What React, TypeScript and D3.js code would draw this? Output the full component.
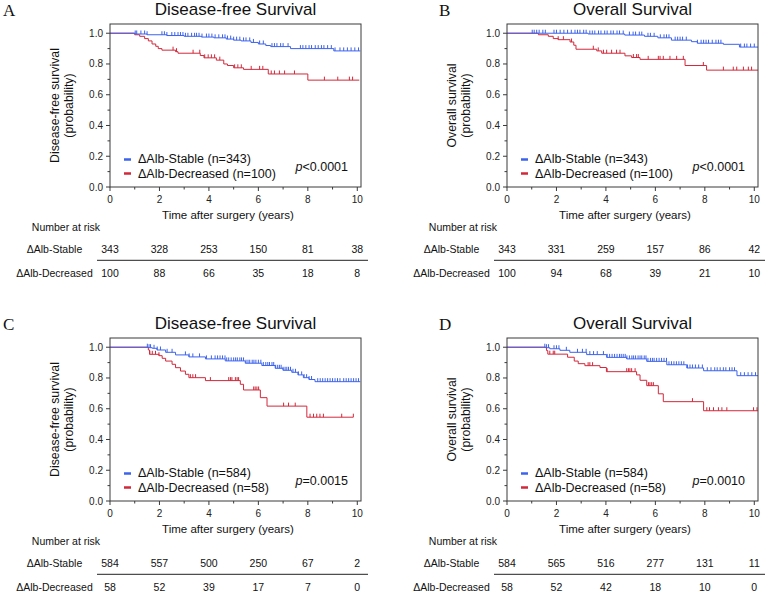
import React from "react";
import * as d3 from "d3";

// ---------- axis ticks ----------
const timeTicks = [0, 2, 4, 6, 8, 10];
const timeMinorTicks = [1, 3, 5, 7, 9];
const survTicks = [0, 0.2, 0.4, 0.6, 0.8, 1.0];
const survMinorTicks = [0.1, 0.3, 0.5, 0.7, 0.9];

// ---------- panel texts ----------
const panelLetters = ["A", "B", "C", "D"];
const panelTitles = ["Disease-free Survival", "Overall Survival", "Disease-free Survival", "Overall Survival"];
const yLabelTop = ["Disease-free survival", "Overall survival", "Disease-free survival", "Overall survival"];
const yLabelBottom = ["(probability)", "(probability)", "(probability)", "(probability)"];
const groupNames = ["ΔAlb-Stable", "ΔAlb-Decreased"];
const stableN = [343, 343, 584, 584];
const decreasedN = [100, 100, 58, 58];
const pValueText = ["<0.0001", "<0.0001", "=0.0015", "=0.0010"];

// ---------- number at risk ----------
const riskStableA = [343, 328, 253, 150, 81, 38];
const riskDecreasedA = [100, 88, 66, 35, 18, 8];
const riskStableB = [343, 331, 259, 157, 86, 42];
const riskDecreasedB = [100, 94, 68, 39, 21, 10];
const riskStableC = [584, 557, 500, 250, 67, 2];
const riskDecreasedC = [58, 52, 39, 17, 7, 0];
const riskStableD = [584, 565, 516, 277, 131, 11];
const riskDecreasedD = [58, 52, 42, 18, 10, 0];

// ---------- Kaplan-Meier steps [time, survival after drop] ----------
const stableStepsA: [number, number][] = [
  [1.0, 0.995], [1.5, 0.99], [2.3, 0.985], [3.0, 0.98], [3.7, 0.975], [4.2, 0.97],
  [4.7, 0.962], [5.0, 0.955], [5.3, 0.95], [5.7, 0.94], [6.0, 0.93], [6.3, 0.92],
  [6.5, 0.913], [7.3, 0.9], [9.05, 0.885],
];
const decreasedStepsA: [number, number][] = [
  [1.0, 0.99], [1.2, 0.98], [1.4, 0.965], [1.55, 0.95], [1.7, 0.93], [1.85, 0.915],
  [1.95, 0.9], [2.1, 0.89], [2.65, 0.88], [2.75, 0.87], [3.65, 0.855], [3.8, 0.84],
  [4.3, 0.825], [4.6, 0.8], [4.75, 0.79], [5.0, 0.775], [5.4, 0.765], [6.4, 0.735], [8.0, 0.695],
];
const stableStepsB: [number, number][] = [
  [3.28, 0.995], [4.76, 0.988], [5.56, 0.98], [6.1, 0.97], [6.65, 0.955], [7.46, 0.945],
  [7.7, 0.935], [8.75, 0.928], [9.4, 0.91],
];
const decreasedStepsB: [number, number][] = [
  [1.27, 0.99], [1.67, 0.98], [1.87, 0.965], [2.07, 0.958], [2.55, 0.943], [2.7, 0.922],
  [2.79, 0.896], [3.63, 0.885], [3.83, 0.87], [4.77, 0.853], [5.04, 0.842], [5.38, 0.83],
  [7.2, 0.79], [8.07, 0.76],
];
const stableStepsC: [number, number][] = [
  [1.55, 0.997], [1.71, 0.993], [1.9, 0.982], [2.25, 0.967], [2.65, 0.95], [3.19, 0.937],
  [3.86, 0.924], [4.66, 0.911], [5.47, 0.896], [6.14, 0.881], [6.68, 0.863], [7.0, 0.85],
  [7.35, 0.837], [7.6, 0.82], [7.82, 0.802], [8.05, 0.79], [8.29, 0.776],
];
const decreasedStepsC: [number, number][] = [
  [1.55, 0.982], [1.6, 0.954], [1.98, 0.945], [2.11, 0.928], [2.25, 0.91], [2.51, 0.889],
  [2.65, 0.867], [2.85, 0.845], [3.05, 0.824], [3.19, 0.802], [3.86, 0.783], [5.27, 0.759],
  [5.4, 0.722], [6.08, 0.672], [6.35, 0.617], [7.96, 0.545],
];
const stableStepsD: [number, number][] = [
  [1.55, 0.997], [1.73, 0.99], [2.14, 0.98], [2.54, 0.967], [3.22, 0.952], [4.03, 0.934],
  [4.84, 0.924], [5.65, 0.908], [6.46, 0.886], [7.27, 0.865], [7.95, 0.847], [9.3, 0.815],
];
const decreasedStepsD: [number, number][] = [
  [1.6, 0.978], [1.65, 0.955], [2.45, 0.935], [2.72, 0.91], [2.88, 0.893], [3.15, 0.88],
  [3.76, 0.868], [4.02, 0.841], [5.24, 0.82], [5.38, 0.785], [5.65, 0.75], [6.12, 0.697],
  [6.32, 0.646], [7.95, 0.587],
];

// ---------- censor times ----------
const stableCensorA = [1.02, 1.08, 1.25, 1.4, 1.5, 2.1, 2.2, 2.3, 2.5, 2.62, 2.75, 2.85, 2.95, 3.05, 3.15, 3.3, 3.42, 3.5, 3.6, 3.72, 3.9, 4.0, 4.12, 4.25, 4.4, 4.55, 4.65, 4.75, 4.88, 5.0, 5.12, 5.25, 5.4, 5.5, 5.65, 5.8, 6.05, 6.2, 6.55, 6.65, 6.75, 6.9, 7.0, 7.2, 7.7, 7.8, 7.92, 8.05, 8.15, 8.3, 8.42, 8.55, 8.65, 8.8, 8.95, 9.1, 9.3, 9.45, 9.6, 9.75, 9.9, 10.05];
const decreasedCensorA = [2.55, 2.69, 3.36, 3.63, 3.83, 3.97, 4.1, 4.23, 4.44, 5.04, 5.17, 5.31, 5.71, 6.05, 6.18, 6.52, 6.65, 6.85, 7.06, 7.46, 8.67, 9.21, 9.68, 9.81];
const stableCensorB = [1.02, 1.1, 1.2, 1.3, 1.45, 1.55, 1.9, 2.0, 2.15, 2.3, 2.45, 2.6, 2.75, 2.85, 2.95, 3.1, 3.2, 3.35, 3.45, 3.55, 3.7, 3.8, 3.95, 4.05, 4.2, 4.3, 4.45, 4.55, 4.7, 4.95, 5.1, 5.2, 5.35, 5.45, 5.7, 5.8, 5.95, 6.2, 6.35, 6.45, 6.55, 6.8, 6.9, 7.0, 7.1, 7.25, 7.7, 7.85, 7.95, 8.05, 8.15, 8.3, 8.45, 8.55, 8.65, 9.45, 9.6, 9.7, 9.85, 10.0];
const decreasedCensorB = [2.07, 2.28, 2.61, 3.49, 3.69, 3.9, 4.03, 4.23, 4.43, 4.57, 5.11, 5.24, 5.31, 5.71, 6.12, 6.19, 6.32, 6.59, 6.86, 7.13, 7.94, 8.75, 9.15, 9.29, 9.56, 9.76, 9.89];
const stableCensorC = [1.51, 1.58, 1.64, 1.78, 1.91, 2.04, 2.31, 2.51, 3.05, 3.2, 3.35, 3.62, 3.9, 4.1, 4.25, 4.35, 4.45, 4.55, 4.65, 4.72, 4.8, 4.9, 5.0, 5.08, 5.15, 5.25, 5.32, 5.4, 5.5, 5.58, 5.65, 5.75, 5.82, 5.9, 6.0, 6.1, 6.2, 6.3, 6.38, 6.45, 6.55, 6.62, 6.7, 6.78, 6.85, 6.92, 7.0, 7.08, 7.15, 7.22, 7.3, 7.4, 7.5, 7.62, 7.75, 7.85, 7.95, 8.05, 8.15, 8.4, 8.5, 8.6, 8.7, 8.8, 8.9, 9.0, 9.1, 9.2, 9.3, 9.45, 9.55, 9.65, 9.75, 9.85, 9.95, 10.05];
const decreasedCensorC = [1.61, 1.71, 1.84, 1.98, 3.25, 3.35, 3.46, 4.06, 4.8, 4.87, 4.93, 5.07, 5.14, 5.2, 5.81, 5.87, 5.94, 6.01, 7.02, 7.22, 7.49, 8.09, 8.23, 8.36, 8.49, 8.63, 9.37, 9.84];
const stableCensorD = [1.53, 1.6, 1.68, 1.9, 2.0, 2.1, 2.4, 2.85, 3.05, 3.2, 3.35, 3.5, 3.65, 3.9, 4.05, 4.15, 4.25, 4.35, 4.45, 4.55, 4.62, 4.7, 4.78, 4.85, 4.95, 5.05, 5.12, 5.2, 5.3, 5.38, 5.45, 5.55, 5.62, 5.7, 5.8, 5.88, 5.95, 6.05, 6.15, 6.25, 6.35, 6.45, 6.55, 6.65, 6.75, 6.85, 6.95, 7.05, 7.15, 7.3, 7.4, 7.5, 7.62, 7.75, 7.9, 8.1, 8.25, 8.4, 8.5, 8.62, 8.75, 8.85, 9.0, 9.1, 9.2, 9.45, 9.6, 9.75, 9.9, 10.05];
const decreasedCensorD = [1.73, 1.87, 1.93, 3.28, 3.35, 3.46, 4.05, 4.84, 4.91, 4.97, 5.04, 5.18, 5.72, 5.78, 5.85, 5.92, 7.5, 8.08, 8.19, 8.35, 8.55, 8.69, 8.89, 9.97, 10.11];

const stableEnd = [10.12, 10.15, 10.12, 10.15];
const decreasedEnd = [10.08, 10.15, 9.84, 10.15];

// ---------- assembled per panel ----------
const riskStable = [riskStableA, riskStableB, riskStableC, riskStableD];
const riskDecreased = [riskDecreasedA, riskDecreasedB, riskDecreasedC, riskDecreasedD];
const stableSteps = [stableStepsA, stableStepsB, stableStepsC, stableStepsD];
const decreasedSteps = [decreasedStepsA, decreasedStepsB, decreasedStepsC, decreasedStepsD];
const stableCensor = [stableCensorA, stableCensorB, stableCensorC, stableCensorD];
const decreasedCensor = [decreasedCensorA, decreasedCensorB, decreasedCensorC, decreasedCensorD];

const BLUE = "#3d63ec";
const RED = "#d2283a";
const FONT = "'Liberation Sans', Arial, Helvetica, sans-serif";

const frameLefts = [110, 507, 110, 507];
const frameTops = [24, 24, 338, 338];
const letterX = [3, 439, 3, 439];
const FRAME_W = 251;
const FRAME_H = 163;

function survAt(steps: [number, number][], t: number) {
  let s = 1;
  for (const [ti, si] of steps) if (ti <= t) s = si;
  return s;
}

function Panel({ i }: { i: number }) {
  const left = frameLefts[i];
  const top = frameTops[i];
  const right = left + FRAME_W;
  const bottom = top + FRAME_H;
  const x = d3.scaleLinear().domain([0, 10.15]).range([left, right]);
  const y = d3.scaleLinear().domain([0, 1.06]).range([bottom, top]);
  const line = d3
    .line<[number, number]>()
    .x((d) => x(d[0]))
    .y((d) => y(d[1]))
    .curve(d3.curveStepAfter);

  const curve = (steps: [number, number][], end: number): [number, number][] => {
    const pts: [number, number][] = [[0, 1], ...steps];
    pts.push([end, steps[steps.length - 1][1]]);
    return pts;
  };

  const series = [
    { steps: decreasedSteps[i], censor: decreasedCensor[i], end: decreasedEnd[i], color: RED },
    { steps: stableSteps[i], censor: stableCensor[i], end: stableEnd[i], color: BLUE },
  ];
  const cx = (left + right) / 2;
  const cy = (top + bottom) / 2;

  return (
    <g fontFamily={FONT}>
      <text x={letterX[i]} y={top - 8} fontFamily="'Liberation Serif', 'Times New Roman', serif" fontSize={17} fill="#111">
        {panelLetters[i]}
      </text>
      <text x={cx} y={top - 9} textAnchor="middle" fontSize={17} fill="#111">
        {panelTitles[i]}
      </text>
      {/* y label */}
      <g transform={`translate(${left - 55},${cy}) rotate(-90)`}>
        <text textAnchor="middle" dy="0.35em" fontSize={12.3} fill="#111">{yLabelTop[i]}</text>
      </g>
      <g transform={`translate(${left - 41},${cy}) rotate(-90)`}>
        <text textAnchor="middle" dy="0.35em" fontSize={12.3} fill="#111">{yLabelBottom[i]}</text>
      </g>
      {/* curves */}
      {series.map((s, k) => (
        <g key={k}>
          <path d={line(curve(s.steps, s.end)) || ""} fill="none" stroke={s.color} strokeWidth={1} />
          {s.censor.map((t, j) => (
            <line key={j} x1={x(t)} x2={x(t)} y1={y(survAt(s.steps, t))} y2={y(survAt(s.steps, t)) - 3.5} stroke={s.color} strokeWidth={1} />
          ))}
        </g>
      ))}
      {/* frame */}
      <rect x={left} y={top} width={FRAME_W} height={FRAME_H} fill="none" stroke="#3a3a3a" strokeWidth={1} />
      {/* y ticks */}
      {survTicks.map((v) => (
        <g key={v}>
          <line x1={left - 4} x2={left} y1={y(v)} y2={y(v)} stroke="#3a3a3a" />
          <text x={left - 7} y={y(v)} dy="0.35em" textAnchor="end" fontSize={10} fill="#222">
            {v.toFixed(1)}
          </text>
        </g>
      ))}
      {survMinorTicks.map((v) => (
        <line key={v} x1={left - 2.5} x2={left} y1={y(v)} y2={y(v)} stroke="#3a3a3a" />
      ))}
      {/* x ticks */}
      {timeTicks.map((v) => (
        <g key={v}>
          <line x1={x(v)} x2={x(v)} y1={bottom} y2={bottom + 4} stroke="#3a3a3a" />
          <text x={x(v)} y={bottom + 16} textAnchor="middle" fontSize={10} fill="#222">
            {v}
          </text>
        </g>
      ))}
      {timeMinorTicks.map((v) => (
        <line key={v} x1={x(v)} x2={x(v)} y1={bottom} y2={bottom + 2.5} stroke="#3a3a3a" />
      ))}
      <text x={left + 118} y={bottom + 32} textAnchor="middle" fontSize={11.5} fill="#111">
        Time after surgery (years)
      </text>
      {/* legend */}
      <line x1={left + 14} x2={left + 21} y1={bottom - 27.5} y2={bottom - 27.5} stroke={BLUE} strokeWidth={2.5} />
      <text x={left + 28} y={bottom - 24} fontSize={12.5} fill="#111">
        {`${groupNames[0]} (n=${stableN[i]})`}
      </text>
      <line x1={left + 14} x2={left + 21} y1={bottom - 13.5} y2={bottom - 13.5} stroke={RED} strokeWidth={2.5} />
      <text x={left + 28} y={bottom - 9.5} fontSize={12.5} fill="#111">
        {`${groupNames[1]} (n=${decreasedN[i]})`}
      </text>
      <text x={right - 13} y={bottom - 16} textAnchor="end" fontSize={12.5} fill="#111">
        <tspan fontStyle="italic">p</tspan>
        {pValueText[i]}
      </text>
      {/* risk table */}
      <text x={left - 44} y={bottom + 44} textAnchor="middle" fontSize={10.5} fill="#111">
        Number at risk
      </text>
      <text x={left - 55.5} y={bottom + 65.5} textAnchor="middle" fontSize={10.5} fill="#111">
        {groupNames[0]}
      </text>
      <text x={left - 55.5} y={bottom + 90} textAnchor="middle" fontSize={10.5} fill="#111">
        {groupNames[1]}
      </text>
      <line x1={left - 13} x2={right + 7} y1={bottom + 73.3} y2={bottom + 73.3} stroke="#222" strokeWidth={1} />
      {timeTicks.map((v, j) => (
        <g key={v}>
          <text x={x(v)} y={bottom + 65.5} textAnchor="middle" fontSize={10.5} fill="#111">
            {riskStable[i][j]}
          </text>
          <text x={x(v)} y={bottom + 90} textAnchor="middle" fontSize={10.5} fill="#111">
            {riskDecreased[i][j]}
          </text>
        </g>
      ))}
    </g>
  );
}

export default function App() {
  return (
    <svg
      width={768}
      height={592}
      viewBox="0 0 768 592"
      style={{ position: "absolute", left: 0, top: 0, background: "#fff" }}
    >
      <rect width={768} height={592} fill="#fff" />
      {[0, 1, 2, 3].map((i) => (
        <Panel key={i} i={i} />
      ))}
    </svg>
  );
}
